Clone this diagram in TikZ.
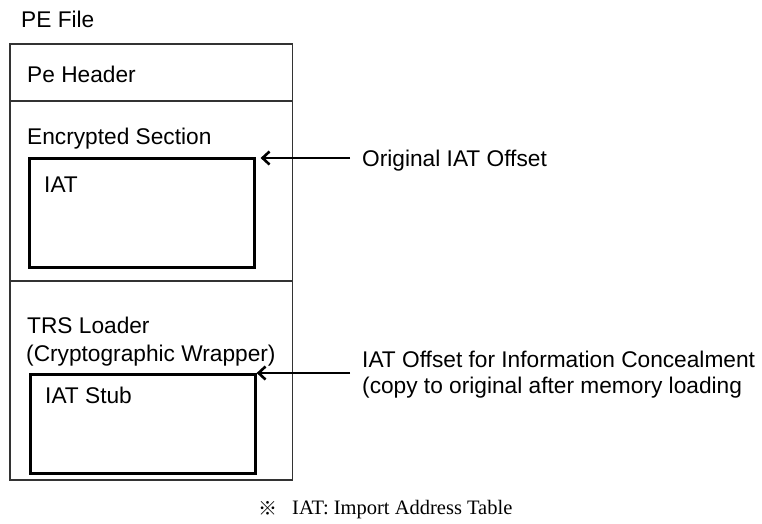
\documentclass[tikz,border=0pt]{standalone}
\usepackage{fontspec}
\setmainfont{Liberation Sans}
\newfontfamily\notefont{Liberation Serif}
\newfontfamily\markfont{Noto Sans CJK JP}
\usetikzlibrary{arrows.meta}
\begin{document}
\begin{tikzpicture}[x=1pt,y=-1pt,
  lbl/.style={anchor=base west, inner sep=0pt, font=\fontsize{22.7}{26}\selectfont},
  frame/.style={draw=black!80, line width=1.2pt},
  tablebox/.style={draw=black, line width=2.6pt, anchor=north west, inner sep=0pt},
  pointer/.style={draw=black, line width=2.8pt, -{Straight Barb[length=7pt,width=13pt,line width=2.6pt]}}]
\useasboundingbox (0,0) rectangle (762,523);

% file outline and section dividers
\draw[frame] (10,44) rectangle (292.5,480);
\draw[frame] (10,101) -- (292.5,101);
\draw[frame] (10,281) -- (292.5,281);

% section titles
\node[lbl] (pefile) at (21,27) {PE File};
\node[lbl] (header) at (27,82) {Pe Header};
\node[lbl] (encsec) at (27,144) {Encrypted Section};
\node[lbl] (loader) at (27,333) {TRS Loader};
\node[lbl] (wrapper) at (26,361) {(Cryptographic Wrapper)};

% import tables
\node[tablebox, minimum width=225pt, minimum height=109pt] (iat) at (28,157) {};
\node[lbl] (iatlbl) at (44,192) {IAT};
\node[tablebox, minimum width=225pt, minimum height=99pt] (stub) at (29,373) {};
\node[lbl] (stublbl) at (45,403) {IAT Stub};

% offset annotations
\node[lbl] (origoff) at (362,166) {Original IAT Offset};
\node[lbl] (conceal1) at (362,367) {IAT Offset for Information Concealment};
\node[lbl] (conceal2) at (362,393) {(copy to original after memory loading};
\coordinate (tail1) at (350,158);
\coordinate (tail2) at (350,373);
\draw[pointer] (tail1) -- ([xshift=5pt]tail1 -| iat.east);
\draw[pointer] (tail2) -- (tail2 -| stub.east);

% footnote
\node[anchor=base west, inner sep=0pt, font=\markfont\fontsize{19}{22}\selectfont] (refmark) at (258,515) {※};
\node[anchor=base west, inner sep=0pt, font=\notefont\fontsize{20.5}{24}\selectfont] (note) at (292,514) {IAT: Import Address Table};
\end{tikzpicture}
\end{document}
